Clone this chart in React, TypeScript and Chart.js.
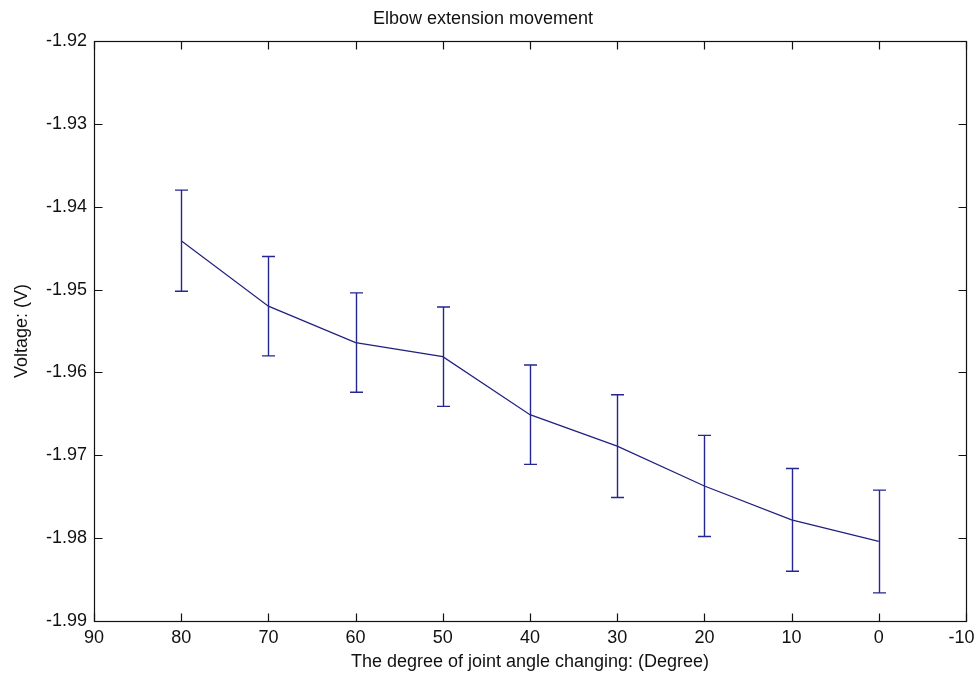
import React, { useEffect, useRef } from 'react';
import { Chart, registerables } from 'chart.js';

Chart.register(...registerables);

const titleText = 'Elbow extension movement';
const xLabel = 'The degree of joint angle changing: (Degree)';
const yLabel = 'Voltage: (V)';

const angles = [80, 70, 60, 50, 40, 30, 20, 10, 0];
const voltages = [-1.9441, -1.952, -1.9564, -1.9581, -1.9651, -1.9689, -1.9737, -1.9778, -1.9804];
const errors = [0.0061, 0.006, 0.006, 0.006, 0.006, 0.0062, 0.0061, 0.0062, 0.0062];

const xTicks = [90, 80, 70, 60, 50, 40, 30, 20, 10, 0, -10];
const yTicks = [-1.92, -1.93, -1.94, -1.95, -1.96, -1.97, -1.98, -1.99];

const FONT = '"Liberation Sans", Arial, Helvetica, sans-serif';
const LINE_COLOR = '#20207f';
const ERR_COLOR = '#262690';

const framePlugin = {
  id: 'matlabFrame',
  afterDatasetsDraw(chart: any) {
    const { ctx, chartArea: a, scales } = chart;
    const x = scales.x;
    const y = scales.y;
    ctx.save();
    // error bars
    ctx.strokeStyle = ERR_COLOR;
    ctx.lineWidth = 1.4;
    const cap = 6.5;
    angles.forEach((ang, i) => {
      const px = Math.round(x.getPixelForValue(ang)) + 0.5;
      const top = y.getPixelForValue(voltages[i] + errors[i]);
      const bot = y.getPixelForValue(voltages[i] - errors[i]);
      ctx.beginPath();
      ctx.moveTo(px, top);
      ctx.lineTo(px, bot);
      ctx.moveTo(px - cap, top);
      ctx.lineTo(px + cap, top);
      ctx.moveTo(px - cap, bot);
      ctx.lineTo(px + cap, bot);
      ctx.stroke();
    });
    // box
    ctx.strokeStyle = '#111';
    ctx.lineWidth = 1.2;
    const L = Math.round(a.left) + 0.5;
    const R = Math.round(a.right) + 0.5;
    const T = Math.round(a.top) + 0.5;
    const B = Math.round(a.bottom) + 0.5;
    ctx.strokeRect(L, T, R - L, B - T);
    // inward ticks
    const tl = 8;
    ctx.beginPath();
    xTicks.forEach((v) => {
      const px = Math.round(x.getPixelForValue(v)) + 0.5;
      ctx.moveTo(px, B);
      ctx.lineTo(px, B - tl);
      ctx.moveTo(px, T);
      ctx.lineTo(px, T + tl);
    });
    yTicks.forEach((v) => {
      const py = Math.round(y.getPixelForValue(v)) + 0.5;
      ctx.moveTo(L, py);
      ctx.lineTo(L + tl, py);
      ctx.moveTo(R, py);
      ctx.lineTo(R - tl, py);
    });
    ctx.stroke();
    ctx.restore();
  },
};

export default function App() {
  const ref = useRef<HTMLCanvasElement | null>(null);

  useEffect(() => {
    document.body.style.margin = '0';
    const canvas = ref.current;
    if (!canvas) return;
    const lastX = xTicks[xTicks.length - 1];
    const chart = new Chart(canvas, {
      type: 'line',
      data: {
        datasets: [
          {
            data: angles.map((a, i) => ({ x: a, y: voltages[i] })),
            borderColor: LINE_COLOR,
            borderWidth: 1.2,
            pointRadius: 0,
            tension: 0,
            fill: false,
          },
        ],
      },
      options: {
        responsive: false,
        animation: false,
        events: [],
        layout: { padding: { left: 0, right: 9, top: 0, bottom: 0 } },
        plugins: {
          legend: { display: false },
          tooltip: { enabled: false },
          title: {
            display: true,
            text: titleText,
            color: '#111',
            font: { family: FONT, size: 18, weight: 'normal' },
            padding: { top: 8, bottom: 11.4 },
          },
        },
        scales: {
          x: {
            type: 'linear',
            reverse: true,
            min: -10,
            max: 90,
            afterBuildTicks: (s: any) => {
              s.ticks = xTicks.map((v) => ({ value: v }));
            },
            afterFit: (s: any) => {
              s.height = 57;
              s.paddingLeft = 0;
              s.paddingRight = 0;
            },
            ticks: {
              autoSkip: false,
              maxRotation: 0,
              padding: 6,
              color: '#111',
              font: { family: FONT, size: 18 },
              // the last label is nudged left so it fits inside the figure, as in the original
              callback: (v: any) => (Number(v) === lastX ? String(v) + '\u2002' : String(v)),
            },
            grid: { display: false, drawTicks: false },
            border: { display: false },
            title: {
              display: true,
              text: xLabel,
              color: '#111',
              font: { family: FONT, size: 18 },
              padding: { top: 0, bottom: 5 },
            },
          },
          y: {
            type: 'linear',
            min: -1.99,
            max: -1.92,
            afterBuildTicks: (s: any) => {
              s.ticks = yTicks.map((v) => ({ value: v }));
            },
            afterFit: (s: any) => {
              s.width = 94;
              s.paddingTop = 0;
              s.paddingBottom = 0;
            },
            ticks: {
              autoSkip: false,
              padding: 7,
              color: '#111',
              font: { family: FONT, size: 18 },
              callback: (v: any) => Number(v).toFixed(2),
            },
            grid: { display: false, drawTicks: false },
            border: { display: false },
            title: {
              display: true,
              text: yLabel,
              color: '#111',
              font: { family: FONT, size: 18 },
              padding: { top: 11, bottom: 0 },
            },
          },
        },
      },
      plugins: [framePlugin],
    } as any);
    return () => chart.destroy();
  }, []);

  return (
    <div style={{ position: 'fixed', left: 0, top: 0, width: 975, height: 678, background: '#fff' }}>
      <canvas ref={ref} width={975} height={678} />
    </div>
  );
}
